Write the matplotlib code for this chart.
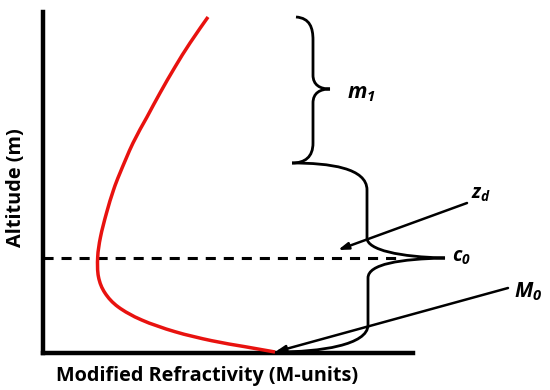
import matplotlib
matplotlib.use('Agg')
import matplotlib.pyplot as plt
from matplotlib.path import Path
from matplotlib.patches import PathPatch

plt.rcParams['font.family'] = ['Open Sans', 'DejaVu Sans']
plt.rcParams['mathtext.fontset'] = 'custom'
plt.rcParams['mathtext.it'] = 'Open Sans:italic:bold'
plt.rcParams['mathtext.rm'] = 'Open Sans:italic:bold'

# schematic units: x = modified refractivity, y = altitude
red_m = [165, 147, 132, 117, 104, 90, 77, 70.5, 63.5, 57.5, 54.7, 55.5, 62, 75.3,
         98.7, 132, 168.7, 202, 232]
red_z = [336, 310, 286, 260, 236, 210, 180, 163, 140, 116, 96, 76, 60, 46,
         33, 21.3, 12.3, 6.3, 1]

duct_height = 95
duct_end = 360

# evaporation-duct style profile (bezier vertices)
profile_verts = [(249, 190), (287, 190), (324, 185), (324, 163),
                 (324, 115),
                 (324, 103), (357, 96), (402, 95),
                 (357, 94), (325, 89), (325, 75),
                 (325, 28),
                 (325, 8), (277, 1), (234, 1)]
profile_codes = [Path.MOVETO, Path.CURVE4, Path.CURVE4, Path.CURVE4,
                 Path.LINETO,
                 Path.CURVE4, Path.CURVE4, Path.CURVE4,
                 Path.CURVE4, Path.CURVE4, Path.CURVE4,
                 Path.LINETO,
                 Path.CURVE4, Path.CURVE4, Path.CURVE4]

brace_verts = [(253, 336), (267, 335), (270, 325), (270, 313),
               (270, 278),
               (270, 268), (277, 264), (287, 264),
               (277, 264), (270, 260), (270, 250),
               (270, 210),
               (270, 196), (262, 190), (249, 190)]
brace_codes = profile_codes

labels = ['$\\mathit{m_1}$', '$\\mathit{z_d}$', '$\\mathit{c_0}$', '$\\mathit{M_0}$']
label_pos = [(304, 259), (428, 158), (409, 95), (471, 61)]
label_size = [15.5, 14, 14, 15]

arrow_from = [(424, 150), (465, 65)]
arrow_to = [(295, 103), (232, 1)]


def smooth_path(xs, ys):
    # catmull-rom through the read points, drawn as cubic bezier pieces
    pts = list(zip(xs, ys))
    pts = [pts[0]] + pts + [pts[-1]]
    verts = [pts[1]]
    codes = [Path.MOVETO]
    for i in range(1, len(pts) - 2):
        p0, p1, p2, p3 = pts[i - 1], pts[i], pts[i + 1], pts[i + 2]
        c1 = (p1[0] + (p2[0] - p0[0]) / 6, p1[1] + (p2[1] - p0[1]) / 6)
        c2 = (p2[0] - (p3[0] - p1[0]) / 6, p2[1] - (p3[1] - p1[1]) / 6)
        verts += [c1, c2, p2]
        codes += [Path.CURVE4] * 3
    return Path(verts, codes)


fig = plt.figure(figsize=(5.5, 3.9), dpi=100)
ax = fig.add_axes([43 / 550, 37 / 390, 370 / 550, 341 / 390])
ax.set_xlim(0, 370)
ax.set_ylim(0, 341)
for s in ['top', 'right']:
    ax.spines[s].set_visible(False)
for s in ['left', 'bottom']:
    ax.spines[s].set_linewidth(3.2)
ax.set_xticks([])
ax.set_yticks([])

ax.add_patch(PathPatch(smooth_path(red_m, red_z), fill=False, lw=2.5,
                       edgecolor='#e8120f', zorder=3, clip_on=False))
ax.plot([0, duct_end], [duct_height, duct_height], color='black', lw=2.2,
        dashes=(3.3, 2.6), clip_on=False)

ax.add_patch(PathPatch(Path(profile_verts, profile_codes), fill=False, lw=2.0,
                       edgecolor='black', clip_on=False))
ax.add_patch(PathPatch(Path(brace_verts, brace_codes), fill=False, lw=2.0,
                       edgecolor='black', clip_on=False))

for p0, p1 in zip(arrow_from, arrow_to):
    ax.annotate('', xy=p1, xytext=p0, annotation_clip=False,
                arrowprops=dict(arrowstyle='-|>,head_length=0.6,head_width=0.2',
                                color='black', lw=1.8, shrinkA=0, shrinkB=0))

for txt, pos, fs in zip(labels, label_pos, label_size):
    ax.text(pos[0], pos[1], txt, fontsize=fs, ha='left', va='center', clip_on=False)

fig.text(207 / 550, 1 - 376 / 390, 'Modified Refractivity (M-units)', fontsize=14.3,
         fontweight='bold', ha='center', va='center')
fig.text(16 / 550, 1 - 188 / 390, 'Altitude (m)', fontsize=14.3, fontweight='bold',
         rotation=90, ha='center', va='center')

fig.savefig('out.png', dpi=100)
